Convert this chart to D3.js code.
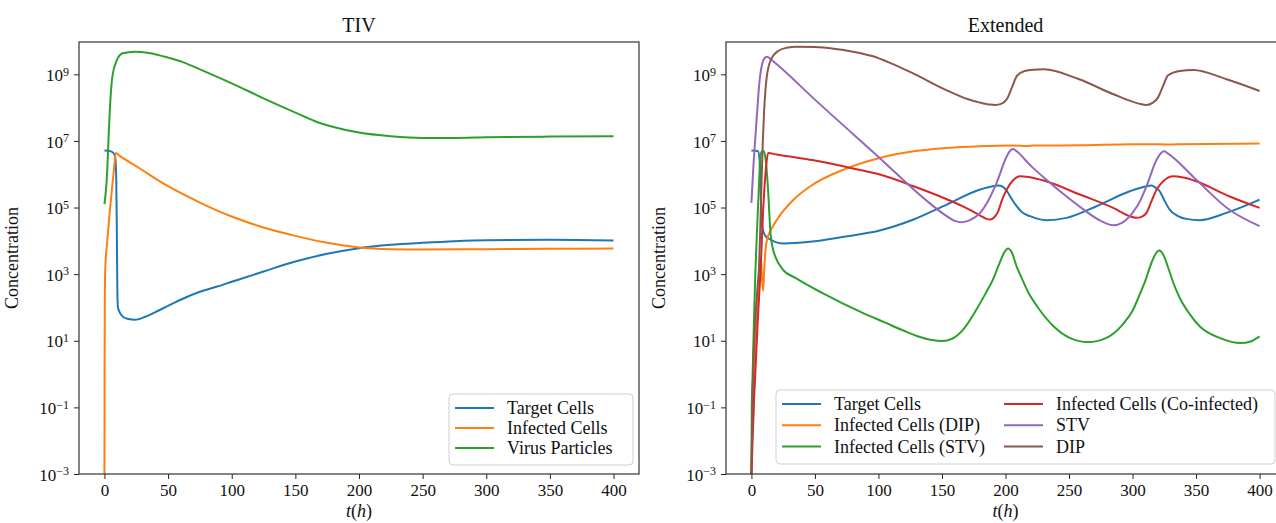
<!DOCTYPE html>
<html>
<head>
<meta charset="utf-8">
<script src="https://cdn.jsdelivr.net/npm/d3@7"></script>
<style>
  body { margin: 0; background: #fff; }
  text { font-family: "Liberation Serif", "DejaVu Serif", serif; fill: #111; }
</style>
</head>
<body>
<svg id="chart" width="1276" height="523"></svg>
<script>
// every series is a list of [t (hours), log10 of concentration]

// --- TIV model
const tivTarget = [[0,6.71],[4,6.7],[7,6.64],[8.5,6.5],[9.2,6.0],[9.7,4.5],[10.1,2.6],[10.6,2.0],[12,1.85],[14,1.74],[18,1.66],[24,1.63],[32,1.72],[40,1.86],[50,2.05],[62,2.27],[75,2.47],[88,2.62],[100,2.77],[125,3.08],[150,3.38],[175,3.61],[200,3.78],[225,3.88],[250,3.94],[275,3.99],[300,4.02],[350,4.03],[400,4.01]]
const tivInfected = [[0,-3],[0.1,0],[0.25,2.0],[0.5,3.0],[1,3.45],[2,3.9],[4,4.8],[6,5.6],[8,6.35],[8.8,6.64],[12,6.55],[25,6.24],[50,5.64],[75,5.15],[100,4.73],[125,4.4],[150,4.15],[175,3.94],[200,3.8],[225,3.75],[250,3.74],[300,3.75],[350,3.76],[400,3.77]]
const tivVirus = [[0,5.1],[2.1,6.04],[3.4,7.25],[4.7,8.25],[6.3,8.95],[9.5,9.4],[14.3,9.63],[24,9.68],[35,9.64],[50,9.5],[62,9.36],[75,9.15],[100,8.73],[125,8.28],[150,7.85],[165,7.6],[180,7.42],[200,7.25],[225,7.14],[250,7.09],[275,7.09],[300,7.11],[350,7.13],[400,7.14]]

// --- Extended model
const extTarget = [[0,6.71],[5.2,6.69],[6.5,6.4],[7.2,5.54],[8.5,4.44],[11.1,4.14],[15,4.04],[25.5,3.92],[46,3.97],[72.6,4.12],[101,4.31],[127.6,4.64],[153.8,5.09],[180,5.54],[190,5.64],[194.4,5.66],[198,5.62],[201,5.5],[205,5.25],[208.8,5.04],[213,4.86],[219.3,4.74],[232.3,4.62],[248,4.69],[271.6,5.04],[297.8,5.49],[310,5.63],[314.8,5.66],[318,5.6],[321.4,5.49],[325,5.22],[329.2,4.94],[335,4.76],[342.3,4.66],[352.8,4.62],[373.8,4.84],[400,5.24]]
const extInfDIP = [[0,-3],[0.5,-2],[1.8,-0.98],[3,0.8],[4.5,2.03],[6,2.9],[7.1,3.44],[7.5,3.5],[8.3,2.9],[9.2,2.5],[10.3,3.3],[11.3,3.8],[12.3,4.04],[15,4.3],[20.2,4.64],[33.3,5.24],[46.4,5.64],[72.6,6.14],[101,6.49],[127.6,6.69],[153.8,6.79],[180,6.84],[205,6.86],[212,6.855],[217,6.845],[222,6.86],[260,6.87],[300,6.9],[322,6.9],[328,6.89],[335,6.9],[400,6.92]]
const extInfSTV = [[0,-3],[0.3,-1],[1,0.04],[2,1.6],[3.1,3.04],[4.5,4.4],[5.8,5.54],[7.1,6.55],[8.5,6.69],[9.7,6.69],[10.8,6.55],[11.6,6.3],[13.1,5.54],[15,4.24],[17,3.75],[18.9,3.52],[24.4,3.15],[35,2.88],[56,2.43],[88,1.83],[105,1.55],[120,1.3],[132,1.12],[142,1.02],[150,0.99],[158,1.06],[167,1.35],[177,1.93],[184,2.4],[190,2.83],[195,3.3],[199,3.65],[202,3.77],[205,3.65],[209,3.2],[212,2.95],[218,2.45],[225,2.03],[238,1.43],[251,1.08],[265,0.96],[279,1.08],[292,1.48],[300,1.9],[305,2.33],[310,2.8],[315,3.35],[318,3.6],[321,3.71],[324,3.6],[328,3.2],[332,2.75],[337,2.3],[345,1.8],[353,1.43],[369,1.08],[385,0.93],[393,0.98],[400,1.13]]
const extInfCo = [[0,-3],[0.5,-2.5],[2,-0.8],[3.1,0.03],[5,1.6],[7.1,3.04],[9.7,5.24],[11.5,6.2],[13.1,6.64],[20,6.59],[35,6.5],[50,6.41],[65,6.3],[80,6.17],[90,6.09],[101,5.99],[127.6,5.64],[153.8,5.25],[170,4.97],[180,4.76],[185,4.66],[188,4.64],[191,4.7],[194,4.86],[197,5.2],[201,5.54],[206,5.82],[211.4,5.94],[218,5.92],[232,5.79],[258.5,5.39],[284.7,4.99],[298,4.74],[303,4.69],[307,4.72],[311,4.84],[315,5.2],[319,5.54],[325,5.82],[332,5.94],[340,5.9],[350,5.79],[376,5.34],[400,4.99]]
const extSTV = [[0,5.14],[1.5,6.2],[3,7.05],[4.5,7.85],[5.8,8.55],[7,9.0],[8.4,9.3],[10,9.47],[12.3,9.53],[15,9.46],[20,9.3],[50,8.24],[100,6.52],[140,5.14],[153.8,4.74],[160,4.6],[165.6,4.56],[172,4.62],[180,4.84],[187,5.25],[193,5.74],[201,6.54],[203.5,6.7],[206,6.76],[209,6.68],[220,6.25],[232,5.84],[258,5.04],[275,4.6],[284.7,4.47],[292,4.55],[300,4.84],[306,5.2],[311,5.64],[319,6.44],[322.5,6.64],[325,6.69],[328,6.62],[350,5.84],[376,4.94],[400,4.44]]
const extDIP = [[0,-3],[1,-0.5],[2,0.8],[3,1.6],[4,2.2],[5,2.7],[6,3.2],[7,4.4],[8,5.8],[9,7.0],[10,7.9],[11,8.5],[12,8.9],[14,9.3],[17,9.55],[21,9.7],[28,9.8],[35,9.83],[50,9.82],[65,9.77],[80,9.68],[95,9.55],[110,9.33],[127.6,9.02],[153.8,8.52],[170,8.26],[180,8.15],[188,8.09],[192,8.08],[197,8.12],[201,8.25],[205,8.6],[209,8.95],[215,9.1],[222,9.14],[230,9.15],[258,8.85],[285,8.4],[305,8.12],[311,8.08],[316,8.15],[320,8.3],[324,8.65],[328,8.97],[337,9.1],[348,9.13],[374,8.85],[400,8.5]]

const tivNames = ['Target Cells', 'Infected Cells', 'Virus Particles']
const extNames = ['Target Cells', 'Infected Cells (DIP)', 'Infected Cells (STV)', 'Infected Cells (Co-infected)', 'STV', 'DIP']
const colors = ['#1f77b4', '#ff7f0e', '#2ca02c', '#d62728', '#9467bd', '#8c564b']

const xTicks = [0, 50, 100, 150, 200, 250, 300, 350, 400]
const yExps = [-3, -1, 1, 3, 5, 7, 9]

const svg = d3.select('#chart')
const plotTop = 42, plotBottom = 474

function panel (left, right, title, series, idx) {
  const x = d3.scaleLinear().domain([-20, 420]).range([left, right])
  const y = d3.scaleLog().domain([1e-3, Math.pow(10, 9.97)]).range([plotBottom, plotTop])

  const g = svg.append('g')

  const clipId = 'clip' + idx
  g.append('clipPath').attr('id', clipId)
    .append('rect')
    .attr('x', left).attr('y', plotTop)
    .attr('width', right - left).attr('height', plotBottom - plotTop)

  const line = d3.line()
    .x(d => x(d[0]))
    .y(d => y(Math.pow(10, d[1])))
    .curve(d3.curveMonotoneX)

  g.append('g').attr('clip-path', `url(#${clipId})`)
    .selectAll('path')
    .data(series)
  .enter().append('path')
    .attr('d', d => line(d))
    .attr('fill', 'none')
    .attr('stroke', (d, i) => colors[i])
    .attr('stroke-width', 2)

  // axes
  const xAxis = g.append('g')
    .attr('transform', `translate(0,${plotBottom})`)
    .call(d3.axisBottom(x).tickValues(xTicks).tickSize(5).tickSizeOuter(0).tickPadding(5))
  xAxis.select('.domain').remove()
  xAxis.selectAll('.tick line').attr('stroke', '#222')
  xAxis.selectAll('.tick text').style('font-size', '17px').attr('fill', '#111')

  const yAxis = g.append('g')
    .attr('transform', `translate(${left},0)`)
    .call(d3.axisLeft(y).tickValues(yExps.map(e => Math.pow(10, e))).tickSize(5).tickSizeOuter(0).tickPadding(5))
  yAxis.select('.domain').remove()
  yAxis.selectAll('.tick line').attr('stroke', '#222')
  yAxis.selectAll('.tick text')
    .attr('fill', '#111')
    .style('font-size', '17px')
    .attr('dy', '0.36em')
    .text(null)
    .each(function (d, i) {
      const t = d3.select(this)
      t.append('tspan').text('10')
      t.append('tspan')
        .attr('dy', '-0.45em')
        .style('font-size', '12px')
        .text(String(yExps[i]).replace('-', '\u2212'))
    })

  // frame
  g.append('rect')
    .attr('x', left).attr('y', plotTop)
    .attr('width', right - left).attr('height', plotBottom - plotTop)
    .attr('fill', 'none')
    .attr('stroke', '#333')
    .attr('stroke-width', 1.2)

  const mid = (left + right) / 2
  g.append('text')
    .attr('x', mid).attr('y', 32)
    .attr('text-anchor', 'middle')
    .style('font-size', '20px')
    .text(title)

  const xl = g.append('text')
    .attr('x', mid).attr('y', 517)
    .attr('text-anchor', 'middle')
    .style('font-size', '18px')
  xl.append('tspan').style('font-style', 'italic').text('t')
  xl.append('tspan').text('(')
  xl.append('tspan').style('font-style', 'italic').text('h')
  xl.append('tspan').text(')')

  g.append('text')
    .attr('transform', `translate(${left - 61},${(plotTop + plotBottom) / 2}) rotate(-90)`)
    .attr('text-anchor', 'middle')
    .style('font-size', '18px')
    .text('Concentration')

  return g
}

function legend (g, box, items) {
  g.append('rect')
    .attr('x', box.x).attr('y', box.y)
    .attr('width', box.w).attr('height', box.h)
    .attr('rx', 4)
    .attr('fill', '#fff').attr('fill-opacity', 0.85)
    .attr('stroke', '#d0d0d0')

  const row = g.selectAll('.leg')
    .data(items)
  .enter().append('g')
    .attr('transform', d => `translate(${d.x},${d.y})`)
  row.append('line')
    .attr('x1', 0).attr('x2', 39)
    .attr('stroke', d => d.color)
    .attr('stroke-width', 2)
  row.append('text')
    .attr('x', 52).attr('y', 6)
    .style('font-size', '18px')
    .text(d => d.name)
}

const g1 = panel(79, 639, 'TIV', [tivTarget, tivInfected, tivVirus], 1)
legend(g1, { x: 449, y: 394, w: 184, h: 71 },
  tivNames.map((n, i) => ({ name: n, color: colors[i], x: 455, y: 408 + i * 20 })))

const g2 = panel(726, 1285, 'Extended', [extTarget, extInfDIP, extInfSTV, extInfCo, extSTV, extDIP], 2)
legend(g2, { x: 776, y: 390, w: 499, h: 74 },
  extNames.map((n, i) => ({
    name: n,
    color: colors[i],
    x: i < 3 ? 782 : 1004,
    y: 404 + (i % 3) * 21.3
  })))
</script>
</body>
</html>
